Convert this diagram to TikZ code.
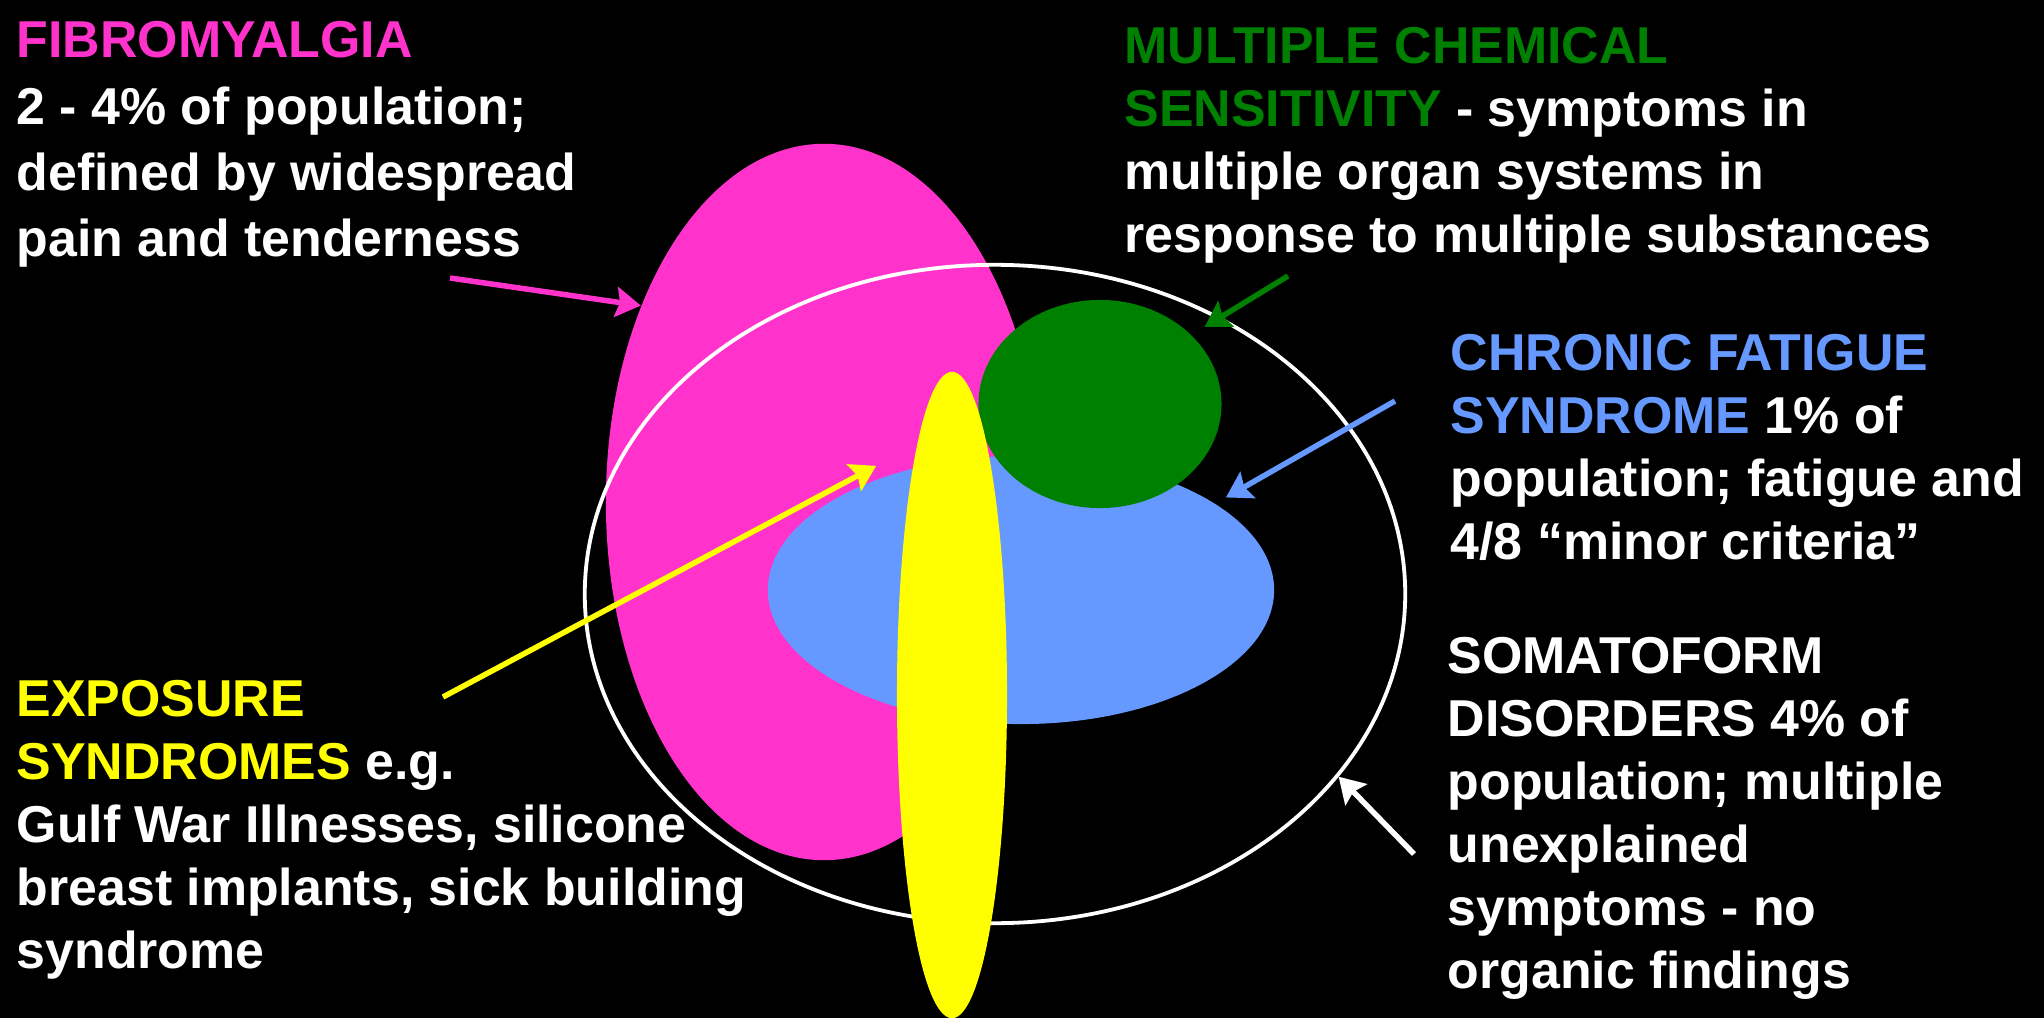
\documentclass[tikz,border=0pt]{standalone}
\usepackage{fontspec}
\setmainfont{Liberation Sans}
\usetikzlibrary{arrows.meta,shapes.geometric}
\definecolor{fibroPink}{HTML}{FF33CC}
\definecolor{mcsGreen}{HTML}{008000}
\definecolor{cfsBlue}{HTML}{6699FF}
\definecolor{expoYellow}{HTML}{FFFF00}

\begin{document}
\begin{tikzpicture}[
            x=0.01cm, y=-0.01cm,
            blob/.style={ellipse, inner sep=0pt, draw=none},
            txt/.style={anchor=north west, inner sep=0pt, align=left, text=white,
                font=\fontsize{14.75pt}{17.9pt}\selectfont\bfseries},
            ptr/.style={line width=0.055cm, -{Stealth[length=0.25cm, width=0.3cm, inset=0.04cm]}},
            >=Stealth
        ]
        \fill[black] (0,0) rectangle (2044,1018);
        \useasboundingbox (0,0) rectangle (2044,1018);

        \node[blob, fill=fibroPink, minimum width=4.36cm, minimum height=7.16cm] (fibroEl) at (824,502) {};
        \node[blob, draw=white, line width=0.038cm, minimum width=8.2cm, minimum height=6.58cm] (somaEl) at (995,594) {};
        \node[blob, fill=cfsBlue, minimum width=5.06cm, minimum height=2.68cm] (cfsEl) at (1021,590) {};
        \node[blob, fill=mcsGreen, minimum width=2.43cm, minimum height=2.08cm] (mcsEl) at (1100,404) {};
        \node[blob, fill=expoYellow, minimum width=1.1cm, minimum height=6.46cm] (expoEl) at (952,695) {};

        \node[txt, font=\fontsize{14.75pt}{18.8pt}\selectfont\bfseries] (fibroTxt) at (16,21)
            {\textcolor{fibroPink}{FIBROMYALGIA}\\2 - 4\% of population;\\defined by widespread\\pain and tenderness};
        \node[txt] (mcsTxt) at (1124,27)
            {\textcolor{mcsGreen}{MULTIPLE CHEMICAL}\\\textcolor{mcsGreen}{SENSITIVITY} - symptoms in\\multiple organ systems in\\response to multiple substances};
        \node[txt] (cfsTxt) at (1450,334)
            {\textcolor{cfsBlue}{CHRONIC FATIGUE}\\\textcolor{cfsBlue}{SYNDROME} 1\% of\\population; fatigue and\\4/8 “minor criteria”};
        \node[txt] (somaTxt) at (1447,637)
            {SOMATOFORM\\DISORDERS 4\% of\\population; multiple\\unexplained\\symptoms - no\\organic findings};
        \node[txt] (expoTxt) at (16,680)
            {\textcolor{expoYellow}{EXPOSURE}\\\textcolor{expoYellow}{SYNDROMES} e.g.\\Gulf War Illnesses, silicone\\breast implants, sick building\\syndrome};

        \coordinate (fibroTail) at (450,278);
        \coordinate (mcsTail) at (1288,276);
        \coordinate (cfsTail) at (1395,401);
        \coordinate (expoTail) at (443,697);
        \coordinate (somaTail) at (1414,854);

        \draw[ptr, fibroPink] (fibroTail) -- (fibroEl.133);
        \draw[ptr, mcsGreen, shorten >=0.15cm] (mcsTail) -- (mcsEl.37);
        \draw[ptr, cfsBlue, shorten >=0.12cm] (cfsTail) -- (cfsEl.24);
        \draw[ptr, expoYellow, shorten >=0.46cm] (expoTail) -- (expoEl.98);
        \draw[ptr, white] (somaTail) -- (somaEl.-28);
    \end{tikzpicture}
\end{document}
